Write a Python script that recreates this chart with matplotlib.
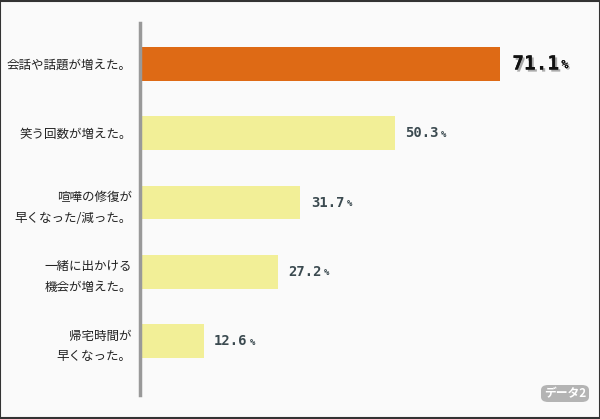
import matplotlib.pyplot as plt
import matplotlib.patheffects as pe
from matplotlib.patches import Rectangle, FancyBboxPatch

plt.rcParams['font.family'] = ['Noto Sans CJK JP', 'DejaVu Sans']

# data
labels = ['会話や話題が増えた。', '笑う回数が増えた。', '喧嘩の修復が\n早くなった/減った。',
          '一緒に出かける\n機会が増えた。', '帰宅時間が\n早くなった。']
values = [71.1, 50.3, 31.7, 27.2, 12.6]
colors = ['#de6a15', '#f2ef97', '#f2ef97', '#f2ef97', '#f2ef97']

fig = plt.figure(figsize=(6, 4.19), dpi=100)
fig.patch.set_facecolor('#fafafa')
ax = fig.add_axes([0.2333, 0.0573, 0.7667, 0.888])
ax.set_facecolor('#fafafa')

pos = list(range(len(values)))
ax.barh(pos, values, height=0.49, color=colors, edgecolor='none', zorder=2)
ax.set_xlim(0, 90.9)
ax.set_ylim(4.78, -0.594)

for s in ['top', 'right', 'bottom']:
    ax.spines[s].set_visible(False)
ax.spines['left'].set_color('#999999')
ax.spines['left'].set_linewidth(2.5)
ax.set_xticks([])
ax.set_yticks(pos)
ax.set_yticklabels(labels, fontsize=9, color='#222222', linespacing=1.75)
ax.tick_params(axis='y', length=0, pad=6)

# value labels
for i, v in enumerate(values):
    if i == 0:
        t = ax.annotate(f'{v:.1f}', (v, i), xytext=(9, 0), textcoords='offset points',
                        ha='left', va='center', fontsize=14, fontweight='bold',
                        family='DejaVu Sans Mono', color='#111111',
                        path_effects=[pe.withSimplePatchShadow(offset=(1.5, -1.5), shadow_rgbFace='#777777', alpha=0.6), pe.Normal()])
        ax.annotate('%', (1, 0.12), xycoords=t, xytext=(1.5, 0), textcoords='offset points',
                    ha='left', va='bottom', fontsize=8.5, fontweight='bold',
                    family='DejaVu Sans Mono', color='#111111',
                    path_effects=[pe.withSimplePatchShadow(offset=(1, -1), shadow_rgbFace='#777777', alpha=0.6), pe.Normal()])
    else:
        t = ax.annotate(f'{v:.1f}', (v, i), xytext=(7.5, 0), textcoords='offset points',
                        ha='left', va='center', fontsize=10, fontweight='bold',
                        family='DejaVu Sans Mono', color='#3b4a50')
        ax.annotate('%', (1, 0.1), xycoords=t, xytext=(1.5, 0), textcoords='offset points',
                    ha='left', va='bottom', fontsize=6.5, fontweight='bold',
                    family='DejaVu Sans Mono', color='#3b4a50')

# badge
badge = FancyBboxPatch((541 / 600, 17 / 419), 48 / 600, 17 / 419,
                       boxstyle='round,pad=0,rounding_size=0.012', transform=fig.transFigure,
                       facecolor='#b4b4b4', edgecolor='none')
fig.patches.append(badge)
fig.text(565 / 600, 25.5 / 419, 'データ2', ha='center', va='center', fontsize=8.5,
         color='white', fontweight='bold')

# outer border
fig.patches.append(Rectangle((0.0008, 0.0012), 0.9984, 0.9976, transform=fig.transFigure,
                             fill=False, edgecolor='#333333', linewidth=1.5))

fig.savefig('out.png', dpi=100, facecolor=fig.get_facecolor())
